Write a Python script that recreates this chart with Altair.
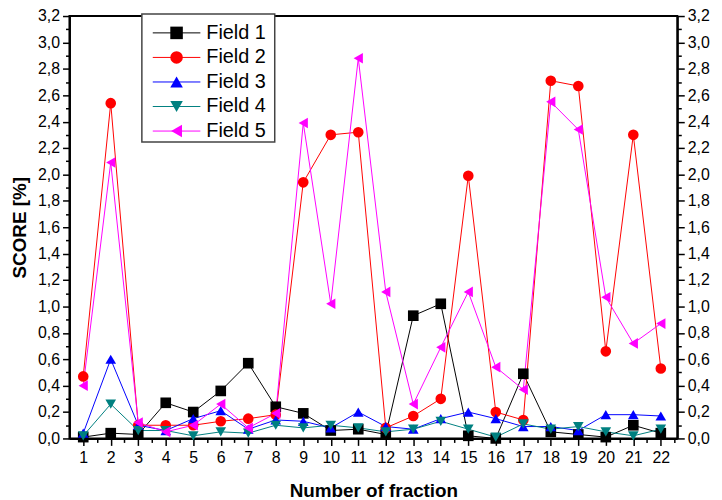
import altair as alt
import pandas as pd

fractions = list(range(1, 23))
fields = ["Field 1", "Field 2", "Field 3", "Field 4", "Field 5"]

field1 = [0.01, 0.04, 0.03, 0.27, 0.20, 0.36, 0.57, 0.24, 0.19, 0.06, 0.07,
          0.03, 0.93, 1.02, 0.02, 0.00, 0.49, 0.05, 0.03, 0.01, 0.10, 0.04]
field2 = [0.47, 2.54, 0.10, 0.10, 0.10, 0.13, 0.15, 0.18, 1.94, 2.30, 2.32,
          0.08, 0.17, 0.30, 1.99, 0.20, 0.14, 2.71, 2.67, 0.66, 2.30, 0.53]
field3 = [0.04, 0.60, 0.10, 0.06, 0.15, 0.21, 0.07, 0.14, 0.13, 0.08, 0.20,
          0.09, 0.07, 0.15, 0.20, 0.15, 0.09, 0.09, 0.06, 0.18, 0.18, 0.17]
field4 = [0.02, 0.26, 0.06, 0.06, 0.02, 0.05, 0.04, 0.10, 0.08, 0.10, 0.08,
          0.05, 0.07, 0.13, 0.07, 0.01, 0.11, 0.07, 0.09, 0.05, 0.02, 0.07]
field5 = [0.40, 2.09, 0.12, 0.05, 0.10, 0.26, 0.08, 0.19, 2.39, 1.02, 2.88,
          1.11, 0.26, 0.69, 1.11, 0.54, 0.37, 2.55, 2.34, 1.07, 0.72, 0.87]

colors = ["#000000", "#FF0000", "#0000FF", "#008080", "#FF00FF"]
shapes = ["square", "circle", "triangle-up", "triangle-down", "triangle-left"]

x_ticks = [v / 2 for v in range(2, 46)]        # 1, 1.5, ..., 22.5
y_ticks = [v / 10 for v in range(0, 33)]       # 0.0, 0.1, ..., 3.2

FONT = "Liberation Sans"

rows = []
for name, series in zip(fields, [field1, field2, field3, field4, field5]):
    for f, v in zip(fractions, series):
        rows.append({"fraction": f, "field": name, "value": v})
df = pd.DataFrame(rows)

leg = pd.DataFrame({"field": fields, "row": list(range(len(fields)))})

color_enc = alt.Color("field:N", scale=alt.Scale(domain=fields, range=colors), legend=None)
shape_enc = alt.Shape("field:N", scale=alt.Scale(domain=fields, range=shapes), legend=None)

x_axis = alt.Axis(
    values=x_ticks,
    labelExpr="datum.value % 1 == 0 ? format(datum.value, 'd') : ''",
    tickSize={"condition": {"test": "datum.value % 1 == 0", "value": 7}, "value": 4},
    tickWidth=1.5, tickColor="black", domainColor="black", domainWidth=2,
    labelFont=FONT, labelFontSize=16, labelColor="black", labelPadding=4,
    labelOverlap=False, labelFlush=False, grid=False,
    title="Number of fraction", titleFont=FONT, titleFontSize=19,
    titleFontWeight="bold", titleColor="black", titlePadding=17,
)
X = alt.X("fraction:Q", scale=alt.Scale(domain=[0.5, 22.6], nice=False, zero=False), axis=x_axis)

y_major_test = "abs(datum.value * 5 - round(datum.value * 5)) < 0.001"
y_label_expr = f"{y_major_test} ? replace(format(datum.value, '.1f'), '.', ',') : ''"
y_tick_size = {"condition": {"test": y_major_test, "value": 7}, "value": 4}
y_scale = alt.Scale(domain=[0, 3.2], nice=False, zero=True)

left_axis = alt.Axis(
    orient="left", values=y_ticks, labelExpr=y_label_expr, tickSize=y_tick_size,
    tickWidth=1.5, tickColor="black", domainColor="black", domainWidth=2,
    labelFont=FONT, labelFontSize=16, labelColor="black", labelPadding=3,
    labelOverlap=False, labelFlush=False, grid=False,
    title="SCORE [%]", titleFont=FONT, titleFontSize=19, titleFontWeight="bold",
    titleColor="black", titlePadding=8,
)
right_axis = alt.Axis(
    orient="right", values=y_ticks, labelExpr=y_label_expr, tickSize=y_tick_size,
    tickWidth=1.5, tickColor="black", domainColor="black", domainWidth=2,
    labelFont=FONT, labelFontSize=16, labelColor="black", labelPadding=3,
    labelOverlap=False, labelFlush=False, grid=False, title=None,
)

lines = alt.Chart(df).mark_line(strokeWidth=1).encode(
    x=X, y=alt.Y("value:Q", scale=y_scale, axis=left_axis), color=color_enc,
    order="fraction:Q",
)
points = alt.Chart(df).mark_point(filled=True, opacity=1, size=115).encode(
    x=X, y=alt.Y("value:Q", scale=y_scale, axis=left_axis),
    color=color_enc, shape=shape_enc,
)
main = alt.layer(lines, points)

right = alt.Chart(df).mark_point(opacity=0).encode(
    x=X, y=alt.Y("value:Q", scale=y_scale, axis=right_axis)
)

leg_y = alt.Y("row:Q", scale=alt.Scale(domain=[0, 4], range=[17, 116], nice=False, zero=False), axis=None)

leg_box = alt.Chart(pd.DataFrame({"k": [0]})).mark_rect(
    fill="white", stroke="#444444", strokeWidth=1.5
).encode(x=alt.value(73), x2=alt.value(207), y=alt.value(-2), y2=alt.value(127))

leg_rule = alt.Chart(leg).mark_rule(strokeWidth=1).encode(
    x=alt.value(84), x2=alt.value(132), y=leg_y, color=color_enc
)
leg_pt = alt.Chart(leg).mark_point(filled=True, opacity=1, size=160).encode(
    x=alt.value(108), y=leg_y, color=color_enc, shape=shape_enc
)
leg_txt = alt.Chart(leg).mark_text(
    align="left", baseline="middle", font=FONT, fontSize=20, color="black"
).encode(x=alt.value(138), y=leg_y, text="field:N")

chart = alt.layer(main, right, leg_box, leg_rule, leg_pt, leg_txt).resolve_scale(
    y="independent"
).properties(
    width=613, height=426, autosize="none",
    padding={"left": 62, "top": 6, "right": 37, "bottom": 62},
    background="white",
).configure_view(stroke="black", strokeWidth=2)

chart.save("out.html", embed_options={"renderer": "svg", "actions": False})
